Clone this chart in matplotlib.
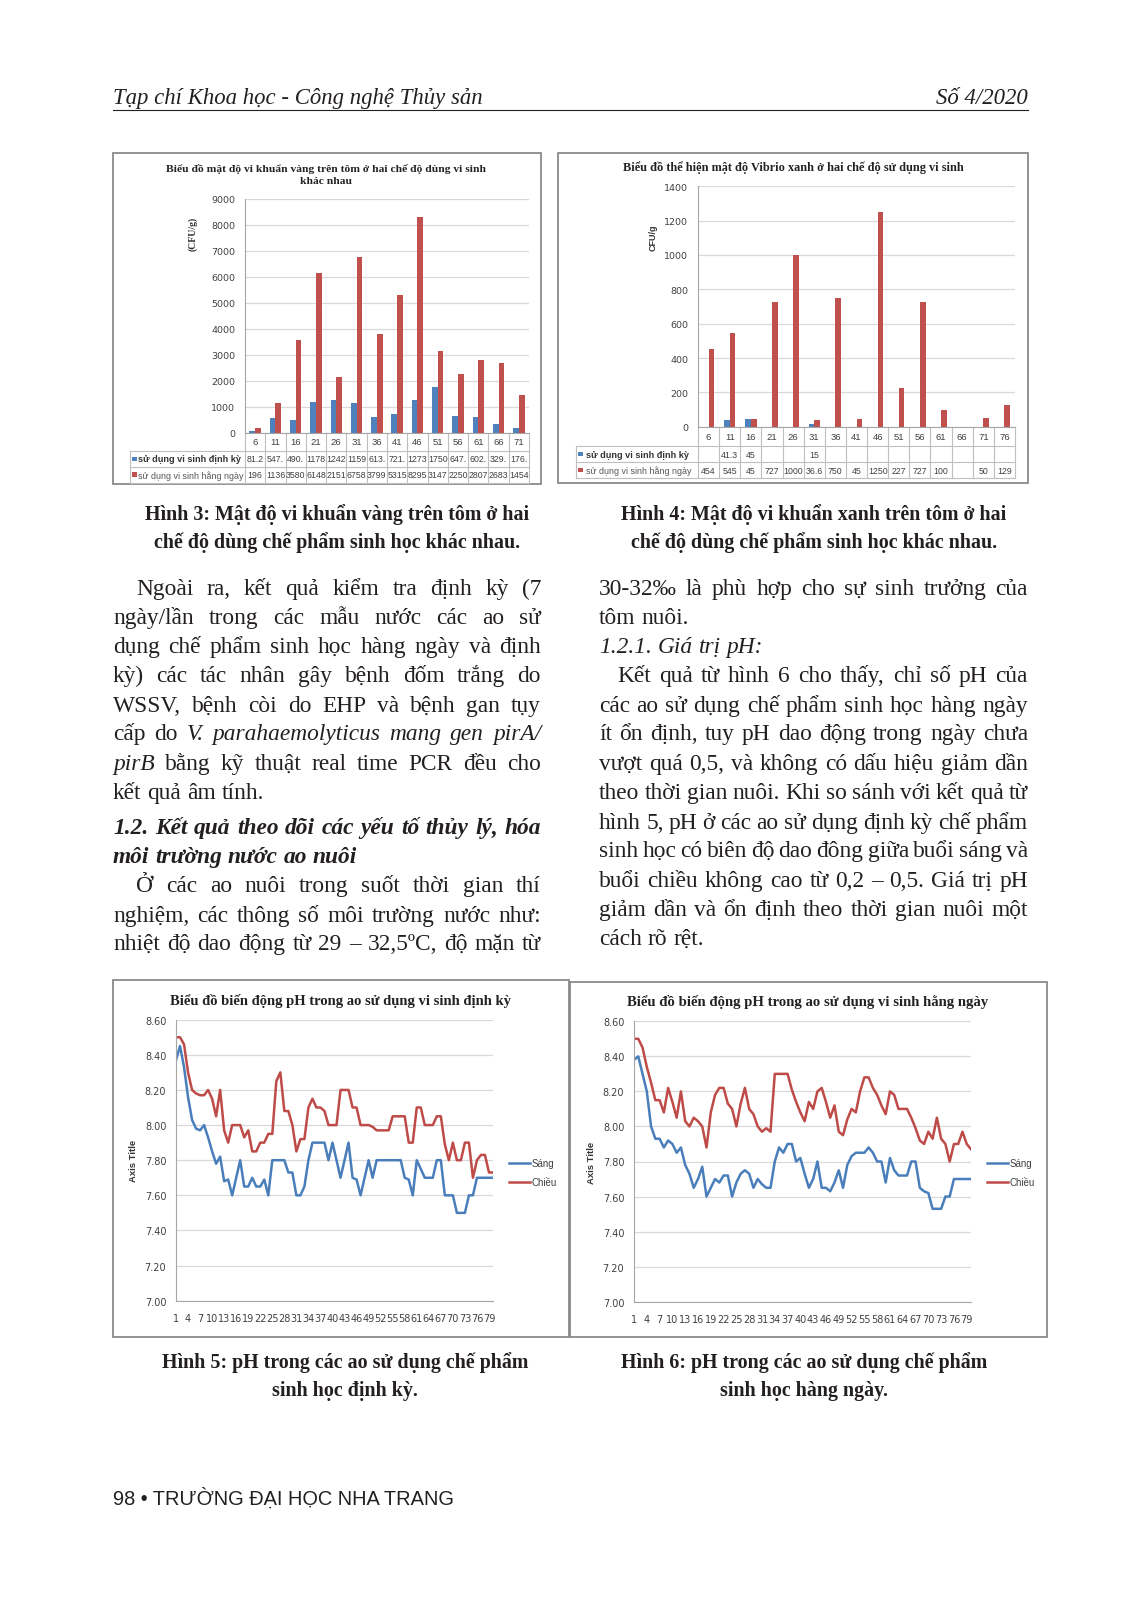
import numpy as np
import matplotlib
matplotlib.use("Agg")
import matplotlib.pyplot as plt
from matplotlib.patches import Rectangle

W, H = 1133, 1606
SERIF = 'Liberation Serif'
SANS = 'Liberation Sans'
BLUE = '#4F81BD'
RED = '#C0504D'
INK = '#231f20'

# ---- data: Hinh 3 (vi khuan vang) ----
days_h3 = [6, 11, 16, 21, 26, 31, 36, 41, 46, 51, 56, 61, 66, 71]
h3_dinhky = [81.2, 547.4, 490.6, 1178.0, 1242.0, 1159.0, 613.5, 721.3,
             1273.0, 1750.0, 647.8, 602.4, 329.6, 176.2]
h3_hangngay = [196, 1136, 3580, 6148, 2151, 6758, 3799, 5315, 8295, 3147,
               2250, 2807, 2683, 1454]

# ---- data: Hinh 4 (vibrio xanh) ----
days_h4 = [6, 11, 16, 21, 26, 31, 36, 41, 46, 51, 56, 61, 66, 71, 76]
nan = np.nan
h4_dinhky = [nan, 41.3, 45, nan, nan, 15, nan, nan, nan, nan, nan, nan, nan, nan, nan]
h4_hangngay = [454, 545, 45, 727, 1000, 36.6, 750, 45, 1250, 227, 727, 100, nan, 50, 129]

# ---- data: pH (Hinh 5, Hinh 6) ----
ph_x = np.arange(1, 81)
ph5_sang = [8.37, 8.45, 8.33, 8.16, 8.03, 7.98, 7.97, 8.00, 7.93, 7.85,
            7.78, 7.82, 7.68, 7.69, 7.60, 7.70, 7.80, 7.65, 7.65, 7.70,
            7.65, 7.65, 7.69, 7.60, 7.80, 7.80, 7.80, 7.80, 7.73, 7.73,
            7.60, 7.60, 7.65, 7.80, 7.90, 7.90, 7.90, 7.90, 7.80, 7.90,
            7.80, 7.70, 7.80, 7.90, 7.70, 7.69, 7.60, 7.70, 7.80, 7.70,
            7.80, 7.80, 7.80, 7.80, 7.80, 7.80, 7.80, 7.70, 7.69, 7.60,
            7.80, 7.75, 7.70, 7.70, 7.70, 7.80, 7.80, 7.60, 7.60, 7.60,
            7.50, 7.50, 7.50, 7.60, 7.60, 7.70, 7.70, 7.70, 7.70, 7.70]
ph5_chieu = [8.50, 8.50, 8.46, 8.30, 8.20, 8.18, 8.17, 8.17, 8.20, 8.15,
             8.05, 8.20, 7.97, 7.90, 8.00, 8.00, 8.00, 7.93, 7.97, 7.85,
             7.85, 7.90, 7.90, 7.95, 7.95, 8.25, 8.30, 8.08, 8.08, 8.00,
             7.85, 7.92, 7.92, 8.10, 8.15, 8.10, 8.10, 8.08, 8.00, 8.00,
             8.00, 8.20, 8.20, 8.20, 8.10, 8.10, 8.00, 8.00, 8.00, 7.99,
             7.97, 7.97, 7.97, 7.97, 8.05, 8.05, 8.05, 8.05, 7.90, 7.90,
             8.10, 8.10, 8.00, 8.00, 8.00, 8.05, 8.05, 7.89, 7.80, 7.90,
             7.80, 7.80, 7.90, 7.90, 7.70, 7.80, 7.83, 7.83, 7.73, 7.73]
ph6_sang = [8.38, 8.40, 8.30, 8.20, 8.00, 7.93, 7.93, 7.88, 7.92, 7.90,
            7.85, 7.88, 7.78, 7.73, 7.65, 7.70, 7.77, 7.60, 7.65, 7.70,
            7.68, 7.72, 7.72, 7.60, 7.68, 7.73, 7.75, 7.73, 7.65, 7.70,
            7.67, 7.65, 7.65, 7.80, 7.88, 7.85, 7.90, 7.90, 7.80, 7.82,
            7.73, 7.65, 7.70, 7.80, 7.65, 7.65, 7.63, 7.68, 7.75, 7.65,
            7.78, 7.83, 7.85, 7.85, 7.85, 7.88, 7.85, 7.80, 7.80, 7.68,
            7.82, 7.75, 7.72, 7.72, 7.72, 7.80, 7.80, 7.65, 7.63, 7.62,
            7.53, 7.53, 7.53, 7.60, 7.60, 7.70, 7.70, 7.70, 7.70, 7.70]
ph6_chieu = [8.50, 8.50, 8.45, 8.34, 8.25, 8.15, 8.15, 8.08, 8.22, 8.14,
             8.05, 8.20, 8.03, 8.00, 8.05, 8.03, 8.00, 7.88, 8.08, 8.18,
             8.22, 8.22, 8.13, 8.10, 8.00, 8.13, 8.22, 8.10, 8.07, 8.00,
             7.97, 7.99, 7.97, 8.30, 8.30, 8.30, 8.30, 8.21, 8.14, 8.08,
             8.03, 8.14, 8.10, 8.20, 8.22, 8.14, 8.05, 8.12, 7.97, 7.95,
             8.04, 8.10, 8.08, 8.20, 8.28, 8.28, 8.22, 8.18, 8.12, 8.07,
             8.20, 8.18, 8.10, 8.10, 8.10, 8.05, 7.99, 7.92, 7.90, 7.97,
             7.93, 8.05, 7.93, 7.90, 7.80, 7.90, 7.90, 7.97, 7.90, 7.87]

lbl_dinhky = 'sử dụng vi sinh định kỳ'
lbl_hangngay = 'sử dụng vi sinh hằng ngày'

# ---- page text ----
header_left = 'Tạp chí Khoa học - Công nghệ Thủy sản'
header_right = 'Số 4/2020'
footer = '98 • TRƯỜNG ĐẠI HỌC NHA TRANG'

# (segments, justify, indent)
left_col = [
    ([('Ngoài ra, kết quả kiểm tra định kỳ (7', 'n')], True, True),
    ([('ngày/lần trong các mẫu nước các ao sử', 'n')], True, False),
    ([('dụng chế phẩm sinh học hàng ngày và định', 'n')], True, False),
    ([('kỳ) các tác nhân gây bệnh đốm trắng do', 'n')], True, False),
    ([('WSSV, bệnh còi do EHP và bệnh gan tụy', 'n')], True, False),
    ([('cấp do', 'n'), ('V. parahaemolyticus mang gen pirA/', 'i')], True, False),
    ([('pirB', 'i'), ('bằng kỹ thuật real time PCR đều cho', 'n')], True, False),
    ([('kết quả âm tính.', 'n')], False, False),
    ([('1.2. Kết quả theo dõi các yếu tố thủy lý, hóa', 'bi')], True, False),
    ([('môi trường nước ao nuôi', 'bi')], False, False),
    ([('Ở các ao nuôi trong suốt thời gian thí', 'n')], True, True),
    ([('nghiệm, các thông số môi trường nước như:', 'n')], True, False),
    ([('nhiệt độ dao động từ 29 – 32,5ºC, độ mặn từ', 'n')], True, False),
]
left_y = [588, 617, 646, 675, 705, 733, 763, 792, 827, 856, 885, 915, 943]

right_col = [
    ([('30-32‰ là phù hợp cho sự sinh trưởng của', 'n')], True, False),
    ([('tôm nuôi.', 'n')], False, False),
    ([('1.2.1. Giá trị pH:', 'i')], False, False),
    ([('Kết quả từ hình 6 cho thấy, chỉ số pH của', 'n')], True, True),
    ([('các ao sử dụng chế phẩm sinh học hàng ngày', 'n')], True, False),
    ([('ít ổn định, tuy pH dao động trong ngày chưa', 'n')], True, False),
    ([('vượt quá 0,5, và không có dấu hiệu giảm dần', 'n')], True, False),
    ([('theo thời gian nuôi. Khi so sánh với kết quả từ', 'n')], True, False),
    ([('hình 5, pH ở các ao sử dụng định kỳ chế phẩm', 'n')], True, False),
    ([('sinh học có biên độ dao đông giữa buổi sáng và', 'n')], True, False),
    ([('buổi chiều không cao từ 0,2 – 0,5. Giá trị pH', 'n')], True, False),
    ([('giảm dần và ổn định theo thời gian nuôi một', 'n')], True, False),
    ([('cách rõ rệt.', 'n')], False, False),
]
right_y = [588, 617, 646, 675, 705, 733, 763, 792, 822, 850, 880, 909, 938]

captions = [
    (337, 515, 'Hình 3: Mật độ vi khuẩn vàng trên tôm ở hai', 'chế độ dùng chế phẩm sinh học khác nhau.'),
    (814, 515, 'Hình 4: Mật độ vi khuẩn xanh trên tôm ở hai', 'chế độ dùng chế phẩm sinh học khác nhau.'),
    (345, 1363, 'Hình 5: pH trong các ao sử dụng chế phẩm', 'sinh học định kỳ.'),
    (804, 1363, 'Hình 6: pH trong các ao sử dụng chế phẩm', 'sinh học hàng ngày.'),
]

fig = plt.figure(figsize=(W / 100, H / 100), dpi=100)
fig.patch.set_facecolor('white')
ov = fig.add_axes([0, 0, 1, 1])
ov.set_xlim(0, W)
ov.set_ylim(H, 0)
ov.axis('off')
rend = fig.canvas.get_renderer()


def ax_px(x0, y0, x1, y1):
    a = fig.add_axes([x0 / W, 1 - y1 / H, (x1 - x0) / W, (y1 - y0) / H])
    a.set_facecolor('none')
    return a


def fit_size(s, target, **kw):
    t = ov.text(0, 0, s, fontsize=10, **kw)
    w = t.get_window_extent(rend).width
    t.remove()
    return 10 * target / w


def put_line(segs, x0, x1, y, size, justify=True, indent=0):
    words = []
    for txt, st in segs:
        for w in txt.split():
            words.append((w, st))
    arts, widths = [], []
    for w, st in words:
        t = ov.text(0, y, w, fontsize=size, family=SERIF, color=INK,
                    style='italic' if 'i' in st else 'normal',
                    weight='bold' if 'b' in st else 'normal', va='baseline')
        arts.append(t)
        widths.append(t.get_window_extent(rend).width)
    start = x0 + indent
    if justify and len(words) > 1:
        gap = (x1 - start - sum(widths)) / (len(words) - 1)
    else:
        gap = size * 100 / 72 * 0.25
    x = start
    for t, wd in zip(arts, widths):
        t.set_x(x)
        x += wd + gap


# header and footer
hs = fit_size(header_left, 371, family=SERIF, style='italic')
ov.text(113, 104, header_left, fontsize=hs, family=SERIF, style='italic', color=INK, va='baseline')
ov.text(1028, 104, header_right, fontsize=hs, family=SERIF, style='italic', color=INK,
        va='baseline', ha='right')
ov.plot([113, 1028], [110.5, 110.5], color=INK, lw=0.8)
fs = fit_size(footer, 342, family=SANS)
ov.text(113, 1505, footer, fontsize=fs, family=SANS, color=INK, va='baseline')

# body text
BODY = 16.8
for (segs, just, ind), y in zip(left_col, left_y):
    put_line(segs, 113, 541, y + 7, BODY, just, 23 if ind else 0)
for (segs, just, ind), y in zip(right_col, right_y):
    put_line(segs, 599, 1028, y + 7, BODY, just, 18 if ind else 0)

# captions
cs = fit_size(captions[0][2], 385, family=SERIF, weight='bold')
for cx, cy, l1, l2 in captions:
    ov.text(cx, cy, l1, fontsize=cs, family=SERIF, weight='bold', color=INK, ha='center', va='center')
    ov.text(cx, cy + 28, l2, fontsize=cs, family=SERIF, weight='bold', color=INK, ha='center', va='center')

# chart frames
for x0, y0, x1, y1 in [(113, 154, 541, 485), (558, 154, 1028, 484),
                       (113, 981, 569, 1338), (570, 983, 1047, 1338)]:
    ov.add_patch(Rectangle((x0, y0), x1 - x0, y1 - y0, fill=False, ec='#8a8a8a', lw=1.3))


def style_bar_axes(ax, ymax, step):
    ax.set_ylim(0, ymax)
    ax.set_yticks(np.arange(0, ymax + 1, step))
    ax.yaxis.grid(True, color='#d9d9d9', lw=0.9)
    ax.set_axisbelow(True)
    for s in ['top', 'right']:
        ax.spines[s].set_visible(False)
    for s in ['left', 'bottom']:
        ax.spines[s].set_color('#a6a6a6')
    ax.tick_params(axis='y', length=0, labelsize=6.8, labelcolor='#404040', pad=7)
    ax.set_xticks([])


def bar_table(x0, x1, xl, rows, cats, v1, v2, sq):
    n = len(cats)
    cw = (x1 - x0) / n
    top, ya, yb, bot = rows
    lc = '#bfbfbf'
    for k in range(n + 1):
        ov.plot([x0 + k * cw] * 2, [top, bot], color=lc, lw=0.8)
    ov.plot([xl, xl], [ya, bot], color=lc, lw=0.8)
    for yy in (ya, yb, bot):
        ov.plot([xl, x1], [yy, yy], color=lc, lw=0.8)
    for i, c in enumerate(cats):
        cx = x0 + (i + 0.5) * cw
        ov.text(cx, (top + ya) / 2, str(c), fontsize=6.8, family=SANS, color='#404040',
                ha='center', va='center')
        for v, yy in ((v1[i], (ya + yb) / 2), (v2[i], (yb + bot) / 2)):
            if not np.isnan(v):
                s = str(v)[:4]
                ov.text(cx, yy, s, fontsize=6.3, family=SANS, color='#404040',
                        ha='center', va='center')
    ov.add_patch(Rectangle((xl + 2, (ya + yb) / 2 - 2.5), 4.5, 4.5, color=BLUE, lw=0))
    ov.add_patch(Rectangle((xl + 2, (yb + bot) / 2 - 2.5), 4.5, 4.5, color=RED, lw=0))
    ov.text(xl + sq, (ya + yb) / 2, lbl_dinhky, fontsize=6.6, family=SANS, weight='bold',
            color='#333333', ha='left', va='center')
    ov.text(xl + sq, (yb + bot) / 2, lbl_hangngay, fontsize=6.4, family=SANS,
            color='#555555', ha='left', va='center')


# ---- Hinh 3 ----
ax1 = ax_px(245, 199.7, 529, 433.7)
xi = np.arange(len(days_h3))
ax1.bar(xi - 0.14, h3_dinhky, 0.28, color=BLUE)
ax1.bar(xi + 0.14, h3_hangngay, 0.28, color=RED)
ax1.set_xlim(-0.5, len(days_h3) - 0.5)
style_bar_axes(ax1, 9000, 1000)
bar_table(245, 529, 130, (433.7, 452, 468, 483.5), days_h3, h3_dinhky, h3_hangngay, 8)
t1 = 'Biểu đồ mật độ vi khuẩn vàng trên tôm ở hai chế độ dùng vi sinh'
s1 = fit_size(t1, 318, family=SERIF, weight='bold')
ov.text(326, 169, t1, fontsize=s1, family=SERIF, weight='bold', color='#222222', ha='center', va='center')
ov.text(326, 182, 'khác nhau', fontsize=s1, family=SERIF, weight='bold', color='#222222',
        ha='center', va='center')
ov.text(193, 234, '(CFU/g)', fontsize=7, family=SERIF, weight='bold', color='#333333',
        rotation=90, ha='center', va='center')

# ---- Hinh 4 ----
ax2 = ax_px(698, 187.3, 1015, 427.7)
xi = np.arange(len(days_h4))
ax2.bar(xi - 0.135, h4_dinhky, 0.27, color=BLUE)
ax2.bar(xi + 0.135, h4_hangngay, 0.27, color=RED)
ax2.set_xlim(-0.5, len(days_h4) - 0.5)
style_bar_axes(ax2, 1400, 200)
bar_table(698, 1015, 576, (427.7, 447, 463, 479), days_h4, h4_dinhky, h4_hangngay, 10)
t2 = 'Biểu đồ thể hiện mật độ Vibrio xanh ở hai chế độ sử dụng vi sinh'
s2 = fit_size(t2, 340, family=SERIF, weight='bold')
ov.text(793, 168, t2, fontsize=s2, family=SERIF, weight='bold', color='#222222', ha='center', va='center')
ov.text(653, 238, 'CFU/g', fontsize=6.5, family=SANS, weight='bold', color='#333333',
        rotation=90, ha='center', va='center')


# ---- pH charts ----
def style_line_axes(ax):
    ax.set_xlim(1, 80)
    ax.set_ylim(7.0, 8.6)
    ax.set_yticks(np.arange(7.0, 8.61, 0.2))
    ax.yaxis.set_major_formatter('{x:.2f}')
    ax.set_xticks(ph_x[::3])
    ax.yaxis.grid(True, color='#d9d9d9', lw=0.9)
    ax.set_axisbelow(True)
    for s in ['top', 'right']:
        ax.spines[s].set_visible(False)
    for s in ['left', 'bottom']:
        ax.spines[s].set_color('#a6a6a6')
    ax.tick_params(axis='y', length=0, labelsize=7, labelcolor='#404040', pad=7)
    ax.tick_params(axis='x', length=0, labelsize=7, labelcolor='#404040', pad=9)


def line_chart(box, sang, chieu, title, tx, ty, tw, ylx, legx):
    ax = ax_px(*box)
    ax.plot(ph_x, sang, color='#4A7EBB', lw=1.8)
    ax.plot(ph_x, chieu, color='#BE4B48', lw=1.8)
    style_line_axes(ax)
    st = fit_size(title, tw, family=SERIF, weight='bold')
    ov.text(tx, ty, title, fontsize=st, family=SERIF, weight='bold', color='#222222',
            ha='center', va='center')
    ov.text(ylx, (box[1] + box[3]) / 2, 'Axis Title', fontsize=6.8, family=SANS, weight='bold',
            color='#333333', rotation=90, ha='center', va='center')
    for name, col, yy in (('Sáng', '#4A7EBB', 1164), ('Chiều', '#BE4B48', 1183)):
        ov.plot([legx, legx + 21], [yy, yy], color=col, lw=1.8)
        ov.text(legx + 23, yy, name, fontsize=7, family=SANS, color='#404040', va='center')


line_chart((176, 1020.7, 493, 1301.7), ph5_sang, ph5_chieu,
           'Biểu đồ biến động pH trong ao sử dụng vi sinh định kỳ', 340, 1001, 343, 134, 509)
line_chart((634, 1022.3, 971, 1302.7), ph6_sang, ph6_chieu,
           'Biểu đồ biến động pH trong ao sử dụng vi sinh hằng ngày', 808, 1002, 363, 591, 987)

fig.savefig('out.png', dpi=100, facecolor='white')
